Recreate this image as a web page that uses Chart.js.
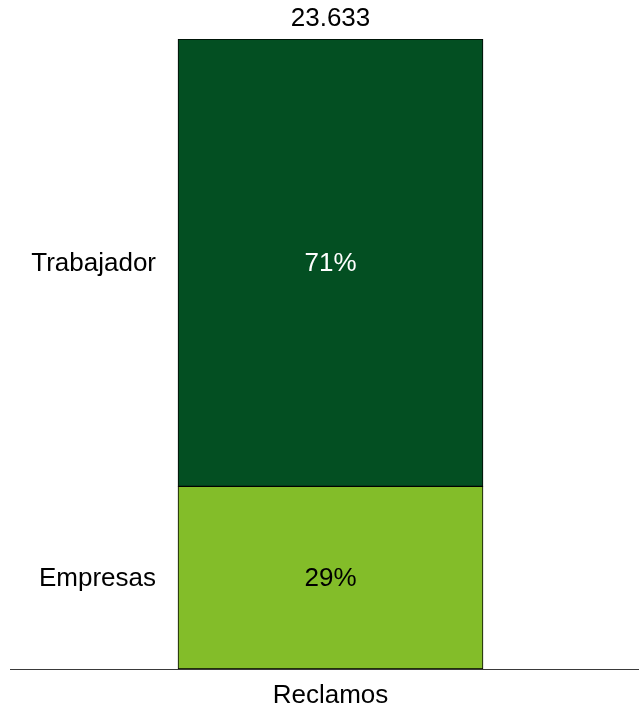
<!DOCTYPE html>
<html>
<head>
<meta charset="utf-8">
<style>
  html, body { margin: 0; padding: 0; background: #fff; overflow: hidden; width: 639px; height: 712px; }
  #wrap { width: 651px; height: 712px; }
</style>
<script src="https://cdn.jsdelivr.net/npm/chart.js@4.4.1/dist/chart.umd.min.js"></script>
</head>
<body>
<div id="wrap"><canvas id="c" width="651" height="712"></canvas></div>
<script>
// Reclamos por tipo de solicitante
const categories = ['Reclamos'];
const seriesNames = ['Empresas', 'Trabajador'];
const empresas = [29];
const trabajador = [71];
const totals = ['23.633'];

const FONT = '"Liberation Sans", Arial, sans-serif';

// Draws the percentage inside each segment, the series name to the left,
// and the total above the stack.
const barLabels = {
  id: 'barLabels',
  afterDatasetsDraw(chart) {
    const ctx = chart.ctx;
    ctx.save();
    ctx.font = '26px ' + FONT;
    ctx.textBaseline = 'middle';
    const inside = ['#000000', '#ffffff'];
    chart.data.datasets.forEach((ds, di) => {
      const meta = chart.getDatasetMeta(di);
      meta.data.forEach((bar, i) => {
        const p = bar.getProps(['x', 'y', 'base', 'width'], true);
        const mid = (p.y + p.base) / 2;
        ctx.fillStyle = inside[di];
        ctx.textAlign = 'center';
        ctx.fillText(ds.data[i] + '%', p.x, mid + 1);
        ctx.fillStyle = '#000000';
        ctx.textAlign = 'right';
        ctx.fillText(ds.label, p.x - p.width / 2 - 22, mid + 1);
      });
    });
    const topMeta = chart.getDatasetMeta(chart.data.datasets.length - 1);
    topMeta.data.forEach((bar, i) => {
      const p = bar.getProps(['x', 'y'], true);
      ctx.fillStyle = '#000000';
      ctx.textAlign = 'center';
      ctx.fillText(totals[i], p.x, p.y - 20);
    });
    ctx.restore();
  }
};

new Chart(document.getElementById('c'), {
  type: 'bar',
  data: {
    labels: categories,
    datasets: [
      { label: seriesNames[0], data: empresas, backgroundColor: '#83BD29' },
      { label: seriesNames[1], data: trabajador, backgroundColor: '#034F22' }
    ]
  },
  options: {
    responsive: false,
    animation: false,
    devicePixelRatio: 1,
    layout: { padding: { top: 39, left: 10, right: 0, bottom: 0 } },
    datasets: {
      bar: {
        barThickness: 305,
        borderColor: '#000000',
        borderWidth: 1,
        borderSkipped: false
      }
    },
    plugins: {
      legend: { display: false },
      tooltip: { enabled: false }
    },
    scales: {
      x: {
        stacked: true,
        grid: { display: false, drawTicks: false },
        border: { display: true, color: '#3a3a3a', width: 1 },
        ticks: { color: '#000000', font: { family: FONT, size: 26 }, padding: 11 },
        afterFit(scale) { scale.height = 43; }
      },
      y: {
        stacked: true,
        display: false,
        min: 0,
        max: 100
      }
    }
  },
  plugins: [barLabels]
});
</script>
</body>
</html>
